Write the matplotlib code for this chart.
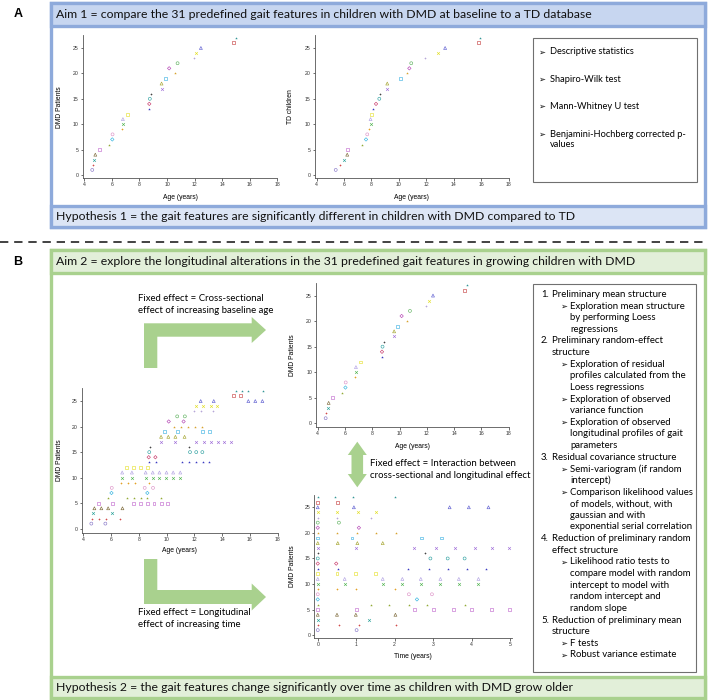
import matplotlib
matplotlib.use("Agg")
import matplotlib.pyplot as plt
from matplotlib.patches import Rectangle, Polygon
import numpy as np

W, H = 708, 700

# DMD patients: one entry per visit (patient number, age at visit)
dmd_patient = ([1] * 2 + [2] * 4 + [3] * 2 + [4] * 4 + [5] * 8 + [6] * 6 + [7] * 2 + [8] * 3 + [9] * 4
               + [10] * 8 + [11] * 8 + [12] * 4 + [13] * 7 + [14] * 2 + [15] * 4 + [16] * 2 + [17] * 8
               + [18] * 4 + [19] * 4 + [20] * 5 + [21] * 2 + [22] * 2 + [23] * 3 + [24] * 4 + [25] * 5
               + [26] * 2 + [27] * 4)
dmd_age = [4.58, 5.59,
           4.60, 5.16, 5.67, 6.63,
           4.72, 6.04,
           4.80, 5.30, 5.79, 6.82,
           5.09, 6.10, 7.60, 8.10, 8.61, 9.09, 9.60, 10.08,
           5.76, 7.14, 7.62, 8.13, 8.61, 9.60,
           6.03, 8.61,
           6.05, 8.42, 9.02,
           6.70, 7.19, 7.69, 8.71,
           6.80, 7.50, 8.49, 9.00, 9.48, 9.99, 10.47, 10.98,
           6.80, 7.50, 8.49, 9.00, 9.48, 9.99, 10.47, 10.98,
           7.14, 7.64, 8.13, 8.63,
           8.71, 9.24, 11.07, 11.60, 12.11, 12.59, 13.08,
           8.71, 9.19,
           8.75, 11.68, 12.13, 12.57,
           8.83, 11.63,
           9.62, 10.61, 12.13, 12.69, 13.20, 13.70, 14.14, 14.60,
           9.60, 10.12, 10.63, 11.29,
           9.87, 10.76, 12.57, 13.10,
           10.54, 11.05, 11.55, 12.06, 12.57,
           10.15, 11.22,
           10.76, 11.31,
           11.97, 12.47, 13.35,
           12.13, 12.64, 13.17, 13.65,
           12.45, 13.39, 15.88, 16.38, 16.89,
           14.79, 15.30,
           14.96, 15.42, 15.88, 16.96]

# TD children, age at measurement (child 1..27)
td_age = [5.39, 5.70, 5.97, 6.23, 6.28, 7.30, 7.60, 7.69, 7.82, 7.96, 7.93, 8.01, 8.11, 8.33,
          8.57, 8.64, 9.10, 9.15, 10.15, 10.56, 10.76, 10.90, 11.92, 12.88, 13.37, 15.80, 15.94]

aim1 = "Aim 1 = compare the 31 predefined gait features in children with DMD at baseline to a TD database"
hyp1 = "Hypothesis 1 = the gait features are significantly different in children with DMD compared to TD"
aim2 = ("Aim 2 = explore the longitudinal alterations in the 31 predefined gait features "
        "in growing children with DMD")
hyp2 = "Hypothesis 2 = the gait features change significantly over time as children with DMD grow older"
stats_a = ["Descriptive statistics", "Shapiro-Wilk test", "Mann-Whitney U test",
           "Benjamini-Hochberg corrected p-\nvalues"]
steps_b = [("1.", "Preliminary mean structure"),
           ("➢", "Exploration mean structure\nby performing Loess\nregressions"),
           ("2.", "Preliminary random-effect\nstructure"),
           ("➢", "Exploration of residual\nprofiles calculated from the\nLoess regressions"),
           ("➢", "Exploration of observed\nvariance function"),
           ("➢", "Exploration of observed\nlongitudinal profiles of gait\nparameters"),
           ("3.", "Residual covariance structure"),
           ("➢", "Semi-variogram (if random\nintercept)"),
           ("➢", "Comparison likelihood values\nof models, without, with\ngaussian and with\n"
                 "exponential serial correlation"),
           ("4.", "Reduction of preliminary random\neffect structure"),
           ("➢", "Likelihood ratio tests to\ncompare model with random\nintercept to model with\n"
                 "random intercept and\nrandom slope"),
           ("5.", "Reduction of preliminary mean\nstructure"),
           ("➢", "F tests"),
           ("➢", "Robust variance estimate")]

# marker style per patient
markers = ["o", "+", "x", "^", "s", "*", "D"]
colors = ["#8878c8", "#d24a4a", "#2aa39a", "#7d6a3a", "#c36fd0", "#8fa830", "#35b5e0",
          "#de93c8", "#e3a125", "#52b452", "#b3a3e3", "#e6e236", "#3535c0", "#c83a6a",
          "#33a3a3", "#444444", "#a070d8", "#a6a632", "#45b4e3", "#d6a028", "#b445b4",
          "#62b462", "#b6a6d8", "#e3e028", "#6262d2", "#c84848", "#2f9494"]

dmd_patient = np.array(dmd_patient)
dmd_age = np.array(dmd_age)
ids = np.arange(1, 28)
baseline = np.array([dmd_age[dmd_patient == i].min() for i in ids])

plt.rcParams["font.family"] = ["Lato", "DejaVu Sans"]
fig = plt.figure(figsize=(7.08, 7.0), dpi=100)

bg = fig.add_axes([0, 0, 1, 1])
bg.set_xlim(0, W)
bg.set_ylim(H, 0)
bg.axis("off")

TXT = 8.8
BOX = 6.9


def frame(top, bottom, head_h, foot_h, edge, head, foot, title, hyp):
    bg.add_patch(Rectangle((51, top), 654, bottom - top, fc="white", ec=edge, lw=2.4))
    bg.add_patch(Rectangle((51, top), 654, head_h, fc=head, ec=edge, lw=2.4))
    bg.add_patch(Rectangle((51, bottom - foot_h), 654, foot_h, fc=foot, ec=edge, lw=2.4))
    bg.text(56, top + head_h / 2, title, fontsize=TXT, va="center", ha="left", color="#111")
    bg.text(56, bottom - foot_h / 2, hyp, fontsize=TXT, va="center", ha="left", color="#111")


frame(3, 227, 23, 21, "#8eaadb", "#c7d6f0", "#dce5f5", aim1, hyp1)
frame(250, 698, 23, 21, "#a9d18e", "#e2efd9", "#e2efd9", aim2, hyp2)
bg.text(18, 14, "A", fontsize=9, fontweight="bold", va="center", ha="center", family="Liberation Sans")
bg.text(18, 262, "B", fontsize=9, fontweight="bold", va="center", ha="center", family="Liberation Sans")
bg.plot([0, W], [242, 242], color="#222222", lw=1.2, ls=(0, (5, 3.5)))

# text boxes
bg.add_patch(Rectangle((533, 38), 164, 144, fc="white", ec="#707070", lw=0.8))
ys = [52, 79.3, 106.7, 134.3]
for y0, s in zip(ys, stats_a):
    bg.text(538, y0, "➢", fontsize=6, va="center", family=["DejaVu Sans"])
    for k, part in enumerate(s.split("\n")):
        bg.text(550, y0 + 10 * k, part, fontsize=6.7, va="center")

bg.add_patch(Rectangle((533, 284), 163, 388, fc="white", ec="#707070", lw=0.8))
y = 294.4
for tag, s in steps_b:
    if tag == "➢":
        bg.text(560, y, tag, fontsize=6, va="center", family=["DejaVu Sans"])
        x = 570
    else:
        bg.text(541, y, tag, fontsize=BOX, va="center")
        x = 552
    for part in s.split("\n"):
        bg.text(x, y, part, fontsize=BOX, va="center")
        y += 11.63

# arrows
green = "#a9d18e"
bg.add_patch(Polygon([(144, 368), (144, 323.3), (251.7, 323.3), (251.7, 317), (266, 330),
                      (251.7, 343), (251.7, 336.7), (157.3, 336.7), (157.3, 368)],
                     closed=True, fc=green, ec="none"))
bg.add_patch(Polygon([(144, 559), (144, 604), (251.7, 604), (251.7, 610.5), (266, 597),
                      (251.7, 583.5), (251.7, 590), (157.3, 590), (157.3, 559)],
                     closed=True, fc=green, ec="none"))
cx = 357.3
bg.add_patch(Polygon([(cx, 441.7), (cx + 9.5, 455), (cx + 5.8, 455), (cx + 5.8, 474), (cx + 9.5, 474),
                      (cx, 487.3), (cx - 9.5, 474), (cx - 5.8, 474), (cx - 5.8, 455), (cx - 9.5, 455)],
                     closed=True, fc=green, ec="none"))
bg.text(138, 298.3, "Fixed effect = Cross-sectional", fontsize=BOX, va="center")
bg.text(138, 310.3, "effect of increasing baseline age", fontsize=BOX, va="center")
bg.text(138, 612.7, "Fixed effect = Longitudinal", fontsize=BOX, va="center")
bg.text(138, 624.7, "effect of increasing time", fontsize=BOX, va="center")
bg.text(370, 464, "Fixed effect = Interaction between", fontsize=BOX, va="center")
bg.text(370, 475.7, "cross-sectional and longitudinal effect", fontsize=BOX, va="center")


def px_axes(l, t, r, b):
    return fig.add_axes([l / W, 1 - b / H, (r - l) / W, (b - t) / H])


def stata(ax, xlim, ylim, xticks, xlabel, ylabel, ylab_x, xlab_y):
    ax.set_xlim(*xlim)
    ax.set_ylim(*ylim)
    ax.set_xticks(xticks)
    ax.set_yticks([0, 5, 10, 15, 20, 25])
    ax.patch.set_alpha(0)
    for s in ["top", "right"]:
        ax.spines[s].set_visible(False)
    for s in ["left", "bottom"]:
        ax.spines[s].set_color("#555555")
        ax.spines[s].set_linewidth(0.6)
    ax.tick_params(direction="out", length=1.8, width=0.5, labelsize=3.7, pad=1.2,
                   colors="#333333")
    for t in ax.get_xticklabels() + ax.get_yticklabels():
        t.set_family("Liberation Sans")
    ax.set_xlabel(xlabel, fontsize=4.9, family="Liberation Sans", va="center")
    ax.set_ylabel(ylabel, fontsize=4.9, family="Liberation Sans", va="center")
    x0, x1 = ax.get_position().x0 * W, ax.get_position().x1 * W
    y0, y1 = (1 - ax.get_position().y1) * H, (1 - ax.get_position().y0) * H
    ax.yaxis.set_label_coords(ylab_x, (y0 + y1) / 2, transform=bg.transData)
    ax.xaxis.set_label_coords((x0 + x1) / 2, xlab_y, transform=bg.transData)


def draw(ax, xs, ys, i):
    m = markers[i % 7]
    c = colors[i]
    if m in ("+", "x"):
        ax.scatter(xs, ys, marker=m, s=4, c=c, linewidths=0.45, clip_on=False)
    elif m == "*":
        ax.scatter(xs, ys, marker=m, s=4, c=c, linewidths=0, clip_on=False)
    else:
        ax.scatter(xs, ys, marker=m, s=4.5 if m != "D" else 3, facecolors="none", edgecolors=c,
                   linewidths=0.45, clip_on=False)


age_ticks = [4, 6, 8, 10, 12, 14, 16, 18]

# Panel A left: DMD baseline
ax1 = px_axes(82.6, 35.3, 277.5, 178.3)
for i in range(27):
    draw(ax1, [baseline[i]], [ids[i]], i)
stata(ax1, (3.88, 18), (-0.65, 27.5), age_ticks, "Age (years)", "DMD Patients", 59.3, 197.7)

# Panel A middle: TD
ax2 = px_axes(315, 35.3, 508.6, 178.3)
for i in range(27):
    draw(ax2, [td_age[i]], [ids[i]], i)
stata(ax2, (3.88, 18), (-0.65, 27.5), age_ticks, "Age (years)", "TD children", 290.7, 197.7)

# Panel B: all visits vs age
ax3 = px_axes(81.6, 388.3, 277.8, 532.8)
for i in range(27):
    sel = dmd_patient == ids[i]
    draw(ax3, dmd_age[sel], dmd_patient[sel], i)
stata(ax3, (3.88, 18), (-0.8, 27.5), age_ticks, "Age (years)", "DMD Patients", 59.3, 551)

# Panel B: baseline age
ax4 = px_axes(316.1, 283.3, 508.7, 426.7)
for i in range(27):
    draw(ax4, [baseline[i]], [ids[i]], i)
stata(ax4, (3.88, 18), (-0.66, 27.4), age_ticks, "Age (years)", "DMD Patients", 292.5, 446)

# Panel B: time since baseline
ax5 = px_axes(314.3, 495, 511.9, 638.3)
for i in range(27):
    sel = dmd_patient == ids[i]
    draw(ax5, dmd_age[sel] - baseline[i], dmd_patient[sel], i)
stata(ax5, (-0.09, 5.05), (-0.6, 27.4), [0, 1, 2, 3, 4, 5], "Time (years)", "DMD Patients",
      292, 656.7)

fig.savefig("out.png", dpi=100)
